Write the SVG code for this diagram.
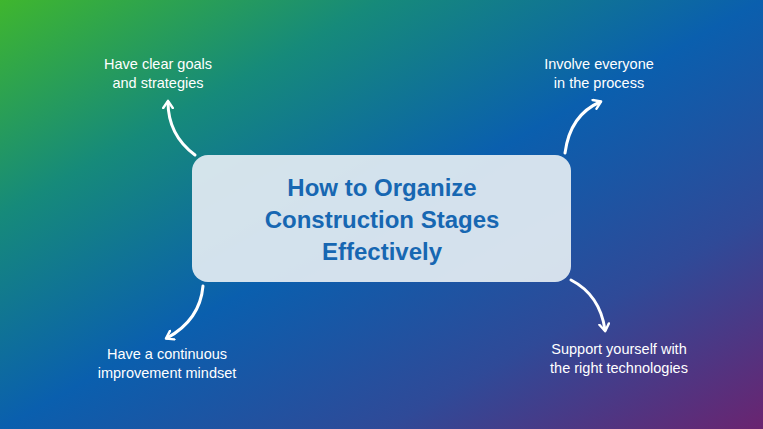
<svg xmlns="http://www.w3.org/2000/svg" width="763" height="429" viewBox="0 0 763 429">
<defs>
<linearGradient id="bg" x1="0" y1="0" x2="1" y2="1" gradientUnits="objectBoundingBox">
<stop offset="0" stop-color="#3fb62e"/>
<stop offset="0.25" stop-color="#168a7a"/>
<stop offset="0.5" stop-color="#0a5fae"/>
<stop offset="0.75" stop-color="#2f4a98"/>
<stop offset="1" stop-color="#6a2470"/>
</linearGradient>
<marker id="ah" viewBox="0 0 10 10" refX="6" refY="5" markerWidth="4" markerHeight="4" orient="auto">
<path d="M1,1 L7,5 L1,9" fill="none" stroke="#fff" stroke-width="2" stroke-linecap="round" stroke-linejoin="round"/>
</marker>
<style>
.lbl{font-family:"Liberation Sans",Arial,sans-serif;font-size:14.5px;fill:#fff;text-anchor:middle}
.ttl{font-family:"Liberation Sans",Arial,sans-serif;font-size:24px;font-weight:bold;fill:#1767b2;text-anchor:middle}
.con{fill:none;stroke:#fff;stroke-width:3;stroke-linecap:round;marker-end:url(#ah)}
</style>
</defs>
<rect width="763" height="429" fill="url(#bg)"/>
<g id="connectors">
<path class="con" d="M195,155 Q168,135 168,102"/>
<path class="con" d="M565,153 Q570,115 600,102"/>
<path class="con" d="M571,280 Q600,295 605,330"/>
<path class="con" d="M203,286 Q200,320 167,338"/>
</g>
<g id="center">
<rect x="192" y="155" width="379" height="127" rx="16" fill="#e3ecf2" fill-opacity="0.93"/>
<text class="ttl" x="382" y="196">How to Organize</text>
<text class="ttl" x="382" y="228">Construction Stages</text>
<text class="ttl" x="382" y="260">Effectively</text>
</g>
<g id="n1"><text class="lbl" x="158" y="69">Have clear goals</text><text class="lbl" x="158" y="88">and strategies</text></g>
<g id="n2"><text class="lbl" x="599" y="69">Involve everyone</text><text class="lbl" x="599" y="88">in the process</text></g>
<g id="n3"><text class="lbl" x="619" y="354">Support yourself with</text><text class="lbl" x="619" y="373">the right technologies</text></g>
<g id="n4"><text class="lbl" x="167" y="359">Have a continuous</text><text class="lbl" x="167" y="378">improvement mindset</text></g>
</svg>
